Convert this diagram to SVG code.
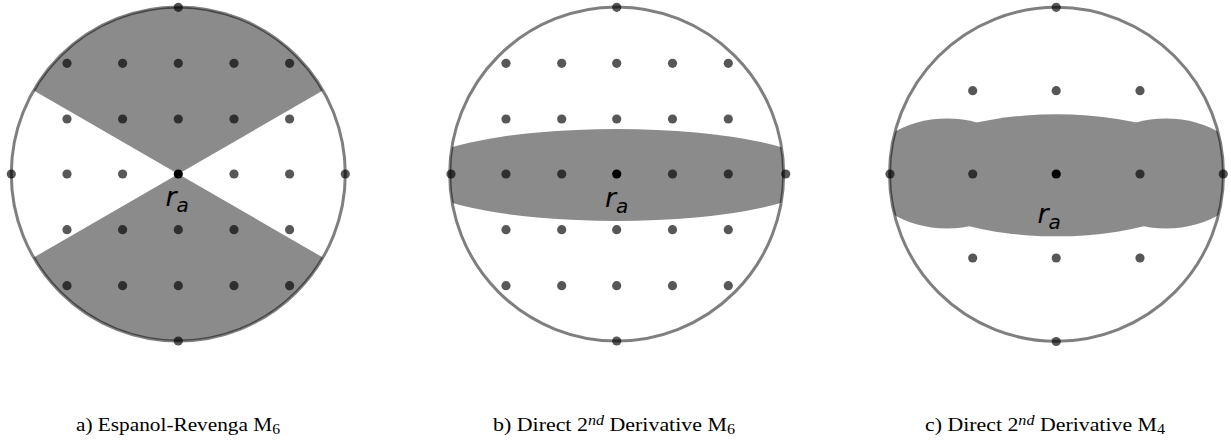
<svg xmlns="http://www.w3.org/2000/svg" width="1231" height="444" viewBox="0 0 1231 444">
<style>
.bg{fill:#ffffff}
.shade{fill:#8b8b8b}
.ring{fill:none;stroke:#000;stroke-opacity:0.5;stroke-width:3}
.pt{fill:#000;fill-opacity:0.66}
.ctr{fill:#000}
.ra{font-family:"DejaVu Sans",sans-serif;font-style:oblique;fill:#000}
.cap{font-family:"Liberation Serif","Times New Roman",serif;font-size:19px;fill:#000}
</style>
<defs>
<clipPath id="clipB"><circle cx="616.7" cy="174" r="167"/></clipPath>
<clipPath id="clipC"><circle cx="1056.5" cy="174.3" r="167"/></clipPath>
</defs>
<rect class="bg" x="0" y="0" width="1231" height="444"/>

<g id="panel-a">
  <path class="shade" d="M178.3,174 L322.9,90.5 A167,167 0 0 0 33.7,90.5 Z"/>
  <path class="shade" d="M178.3,174 L33.7,257.5 A167,167 0 0 0 322.9,257.5 Z"/>
  <circle class="ring" cx="178.3" cy="174" r="167"/>
  <g>
    <circle class="pt" cx="67" cy="63.3" r="4.6"/><circle class="pt" cx="122.6" cy="63.3" r="4.6"/><circle class="pt" cx="178.3" cy="63.3" r="4.6"/><circle class="pt" cx="234" cy="63.3" r="4.6"/><circle class="pt" cx="289.6" cy="63.3" r="4.6"/>
    <circle class="pt" cx="67" cy="119" r="4.6"/><circle class="pt" cx="122.6" cy="119" r="4.6"/><circle class="pt" cx="178.3" cy="119" r="4.6"/><circle class="pt" cx="234" cy="119" r="4.6"/><circle class="pt" cx="289.6" cy="119" r="4.6"/>
    <circle class="pt" cx="11.3" cy="174" r="4.6"/><circle class="pt" cx="67" cy="174" r="4.6"/><circle class="pt" cx="122.6" cy="174" r="4.6"/><circle class="pt" cx="234" cy="174" r="4.6"/><circle class="pt" cx="289.6" cy="174" r="4.6"/><circle class="pt" cx="345.3" cy="174" r="4.6"/>
    <circle class="pt" cx="67" cy="229.7" r="4.6"/><circle class="pt" cx="122.6" cy="229.7" r="4.6"/><circle class="pt" cx="178.3" cy="229.7" r="4.6"/><circle class="pt" cx="234" cy="229.7" r="4.6"/><circle class="pt" cx="289.6" cy="229.7" r="4.6"/>
    <circle class="pt" cx="67" cy="285.7" r="4.6"/><circle class="pt" cx="122.6" cy="285.7" r="4.6"/><circle class="pt" cx="178.3" cy="285.7" r="4.6"/><circle class="pt" cx="234" cy="285.7" r="4.6"/><circle class="pt" cx="289.6" cy="285.7" r="4.6"/>
    <circle class="pt" cx="178.3" cy="7.3" r="4.6"/><circle class="pt" cx="178.3" cy="341" r="4.6"/>
    <circle class="ctr" cx="178.3" cy="174" r="4.6"/>
  </g>
  <text class="ra" x="165.5" y="206" font-size="27">r<tspan font-size="20" dy="6">a</tspan></text>
  <text class="cap" x="76" y="430.7" textLength="204" lengthAdjust="spacingAndGlyphs">a) Espanol-Revenga M<tspan font-size="14" dy="3">6</tspan></text>
</g>

<g id="panel-b">
  <g clip-path="url(#clipB)">
    <ellipse class="shade" cx="616.7" cy="175" rx="207" ry="46"/>
  </g>
  <circle class="ring" cx="616.7" cy="174" r="167"/>
  <g>
    <circle class="pt" cx="506" cy="63.3" r="4.6"/><circle class="pt" cx="561.7" cy="63.3" r="4.6"/><circle class="pt" cx="616.7" cy="63.3" r="4.6"/><circle class="pt" cx="672.5" cy="63.3" r="4.6"/><circle class="pt" cx="728.3" cy="63.3" r="4.6"/>
    <circle class="pt" cx="506" cy="119" r="4.6"/><circle class="pt" cx="561.7" cy="119" r="4.6"/><circle class="pt" cx="616.7" cy="119" r="4.6"/><circle class="pt" cx="672.5" cy="119" r="4.6"/><circle class="pt" cx="728.3" cy="119" r="4.6"/>
    <circle class="pt" cx="451" cy="174" r="4.6"/><circle class="pt" cx="506" cy="174" r="4.6"/><circle class="pt" cx="561.7" cy="174" r="4.6"/><circle class="pt" cx="672.5" cy="174" r="4.6"/><circle class="pt" cx="728.3" cy="174" r="4.6"/><circle class="pt" cx="785.7" cy="174" r="4.6"/>
    <circle class="pt" cx="506" cy="229.7" r="4.6"/><circle class="pt" cx="561.7" cy="229.7" r="4.6"/><circle class="pt" cx="616.7" cy="229.7" r="4.6"/><circle class="pt" cx="672.5" cy="229.7" r="4.6"/><circle class="pt" cx="728.3" cy="229.7" r="4.6"/>
    <circle class="pt" cx="506" cy="285.7" r="4.6"/><circle class="pt" cx="561.7" cy="285.7" r="4.6"/><circle class="pt" cx="616.7" cy="285.7" r="4.6"/><circle class="pt" cx="672.5" cy="285.7" r="4.6"/><circle class="pt" cx="728.3" cy="285.7" r="4.6"/>
    <circle class="pt" cx="616.7" cy="7.3" r="4.6"/><circle class="pt" cx="616.7" cy="341" r="4.6"/>
    <circle class="ctr" cx="616.7" cy="174" r="4.6"/>
  </g>
  <text class="ra" x="605" y="207" font-size="27">r<tspan font-size="20" dy="6">a</tspan></text>
  <text class="cap" x="493" y="430.7" textLength="242" lengthAdjust="spacingAndGlyphs">b) Direct 2<tspan font-size="14" font-style="italic" dy="-6">nd</tspan><tspan dy="6"> Derivative M</tspan><tspan font-size="14" dy="3">6</tspan></text>
</g>

<g id="panel-c">
  <g clip-path="url(#clipC)" class="shade">
    <ellipse cx="1056.5" cy="175.3" rx="159" ry="61"/>
    <ellipse cx="947" cy="173.5" rx="80" ry="55"/>
    <ellipse cx="1166" cy="173.5" rx="80" ry="55"/>
  </g>
  <circle class="ring" cx="1056.5" cy="174.3" r="167"/>
  <g>
    <circle class="pt" cx="972.7" cy="90.7" r="4.6"/><circle class="pt" cx="1056.2" cy="90.7" r="4.6"/><circle class="pt" cx="1140" cy="90.7" r="4.6"/>
    <circle class="pt" cx="890" cy="174" r="4.6"/><circle class="pt" cx="972.7" cy="174" r="4.6"/><circle class="pt" cx="1140" cy="174" r="4.6"/><circle class="pt" cx="1223.3" cy="174" r="4.6"/>
    <circle class="pt" cx="972.7" cy="258" r="4.6"/><circle class="pt" cx="1056.2" cy="258" r="4.6"/><circle class="pt" cx="1140" cy="258" r="4.6"/>
    <circle class="pt" cx="1056.2" cy="7.3" r="4.6"/><circle class="pt" cx="1056.2" cy="341.5" r="4.6"/>
    <circle class="ctr" cx="1056.2" cy="174" r="4.6"/>
  </g>
  <text class="ra" x="1037.5" y="222.5" font-size="27">r<tspan font-size="20" dy="6">a</tspan></text>
  <text class="cap" x="925" y="430.7" textLength="240" lengthAdjust="spacingAndGlyphs">c) Direct 2<tspan font-size="14" font-style="italic" dy="-6">nd</tspan><tspan dy="6"> Derivative M</tspan><tspan font-size="14" dy="3">4</tspan></text>
</g>
</svg>
